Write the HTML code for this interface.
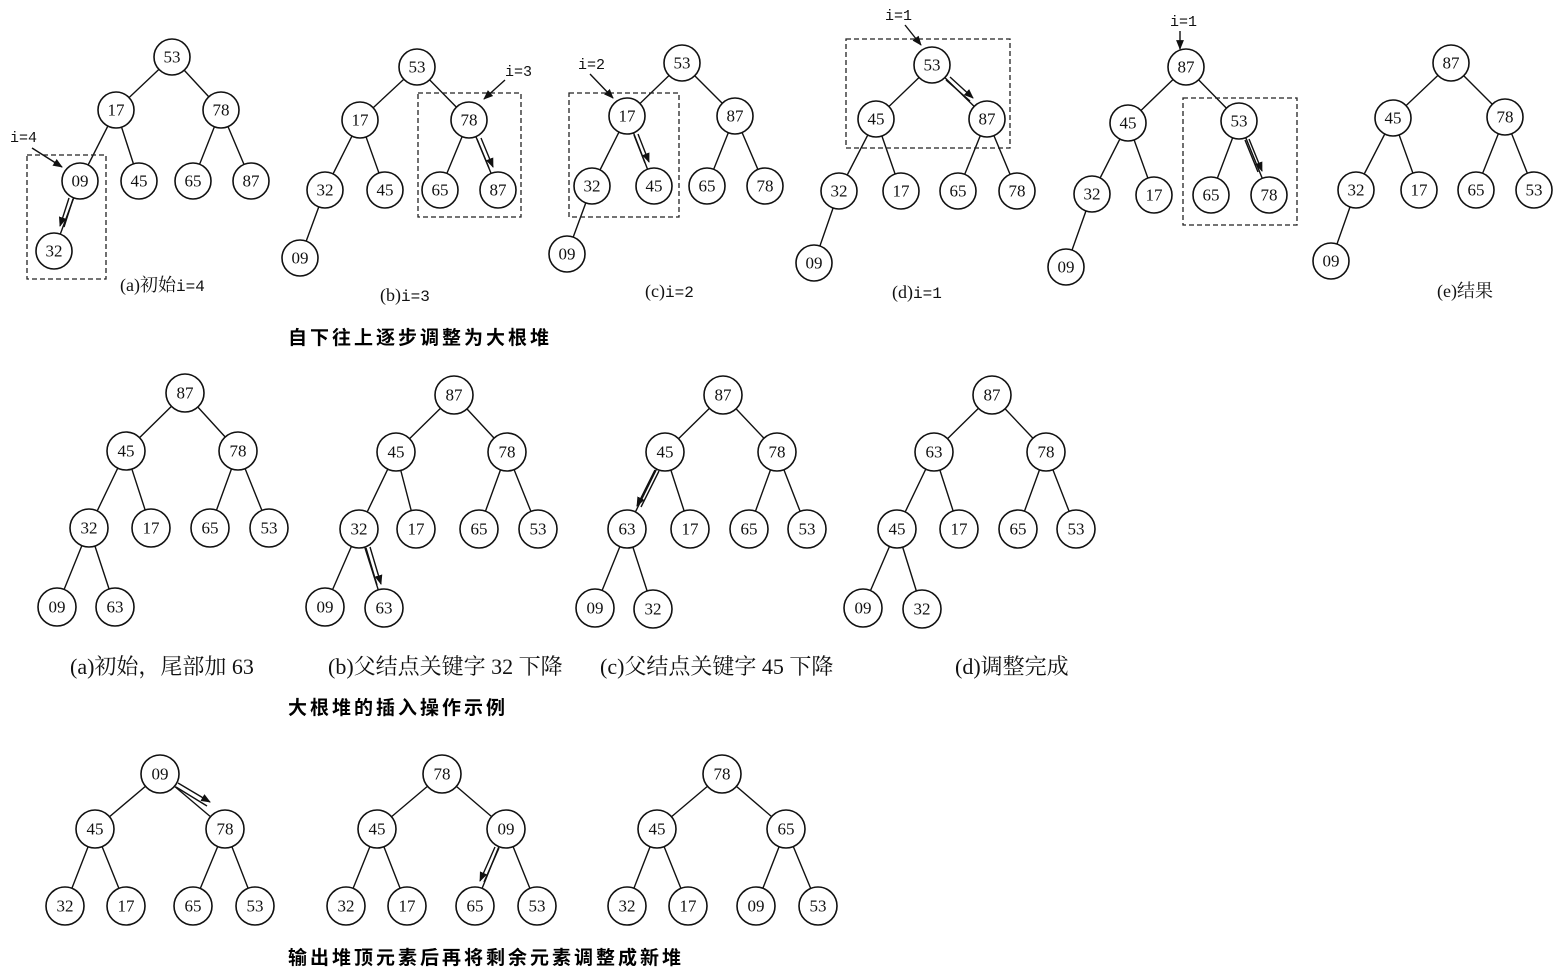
<!DOCTYPE html>
<html><head><meta charset="utf-8"><style>
html,body{margin:0;padding:0;background:#fff;}
svg{display:block}
.n circle{fill:#fff;stroke:#111;stroke-width:1.6}
.n text,.t{font-family:"Liberation Serif","Noto Serif CJK SC",serif;font-size:17px;fill:#111}
.n text{text-anchor:middle;dominant-baseline:central}
line{stroke:#111;stroke-width:1.4}
.d{fill:none;stroke:#222;stroke-width:1.3;stroke-dasharray:5,3}
.m{font-family:"Liberation Mono",monospace;font-size:15px;fill:#111}
.cap{font-size:18px}
.cap tspan{font-size:16px}
.h{font-family:"Liberation Sans","Noto Sans CJK SC",sans-serif;font-size:19px;letter-spacing:3px;font-weight:bold;fill:#000}
.c2{font-size:22px}
</style></head><body>
<svg width="1565" height="974" viewBox="0 0 1565 974" xmlns="http://www.w3.org/2000/svg">
<defs><marker id="a" viewBox="0 0 10 10" refX="9" refY="5" markerWidth="7" markerHeight="7" orient="auto"><path d="M0,1 L10,5 L0,9 z" fill="#111"/></marker></defs>

<g>
<line x1="172" y1="57" x2="116" y2="110"/><line x1="172" y1="57" x2="221" y2="110"/><line x1="116" y1="110" x2="80" y2="181"/><line x1="116" y1="110" x2="139" y2="181"/><line x1="221" y1="110" x2="193" y2="181"/><line x1="221" y1="110" x2="251" y2="181"/><line x1="80" y1="181" x2="54" y2="251"/>
<line x1="417" y1="67" x2="360" y2="120"/><line x1="417" y1="67" x2="469" y2="120"/><line x1="360" y1="120" x2="325" y2="190"/><line x1="360" y1="120" x2="385" y2="190"/><line x1="469" y1="120" x2="440" y2="190"/><line x1="469" y1="120" x2="498" y2="190"/><line x1="325" y1="190" x2="300" y2="258"/>
<line x1="682" y1="63" x2="627" y2="116"/><line x1="682" y1="63" x2="735" y2="116"/><line x1="627" y1="116" x2="592" y2="186"/><line x1="627" y1="116" x2="654" y2="186"/><line x1="735" y1="116" x2="707" y2="186"/><line x1="735" y1="116" x2="765" y2="186"/><line x1="592" y1="186" x2="567" y2="254"/>
<line x1="932" y1="65" x2="876" y2="119"/><line x1="932" y1="65" x2="987" y2="119"/><line x1="876" y1="119" x2="839" y2="191"/><line x1="876" y1="119" x2="901" y2="191"/><line x1="987" y1="119" x2="958" y2="191"/><line x1="987" y1="119" x2="1017" y2="191"/><line x1="839" y1="191" x2="814" y2="263"/>
<line x1="1186" y1="67" x2="1128" y2="123"/><line x1="1186" y1="67" x2="1239" y2="121"/><line x1="1128" y1="123" x2="1092" y2="194"/><line x1="1128" y1="123" x2="1154" y2="195"/><line x1="1239" y1="121" x2="1211" y2="195"/><line x1="1239" y1="121" x2="1269" y2="195"/><line x1="1092" y1="194" x2="1066" y2="267"/>
<line x1="1451" y1="63" x2="1393" y2="118"/><line x1="1451" y1="63" x2="1505" y2="117"/><line x1="1393" y1="118" x2="1356" y2="190"/><line x1="1393" y1="118" x2="1419" y2="190"/><line x1="1505" y1="117" x2="1476" y2="190"/><line x1="1505" y1="117" x2="1534" y2="190"/><line x1="1356" y1="190" x2="1331" y2="261"/>
</g>
<g>
<line x1="185" y1="393" x2="126" y2="451"/><line x1="185" y1="393" x2="238" y2="451"/><line x1="126" y1="451" x2="89" y2="528"/><line x1="126" y1="451" x2="151" y2="528"/><line x1="238" y1="451" x2="210" y2="528"/><line x1="238" y1="451" x2="269" y2="528"/><line x1="89" y1="528" x2="57" y2="607"/><line x1="89" y1="528" x2="115" y2="607"/>
<line x1="454" y1="395" x2="396" y2="452"/><line x1="454" y1="395" x2="507" y2="452"/><line x1="396" y1="452" x2="359" y2="529"/><line x1="396" y1="452" x2="416" y2="529"/><line x1="507" y1="452" x2="479" y2="529"/><line x1="507" y1="452" x2="538" y2="529"/><line x1="359" y1="529" x2="325" y2="607"/><line x1="359" y1="529" x2="384" y2="608"/>
<line x1="723" y1="395" x2="665" y2="452"/><line x1="723" y1="395" x2="777" y2="452"/><line x1="665" y1="452" x2="627" y2="529"/><line x1="665" y1="452" x2="690" y2="529"/><line x1="777" y1="452" x2="749" y2="529"/><line x1="777" y1="452" x2="807" y2="529"/><line x1="627" y1="529" x2="595" y2="608"/><line x1="627" y1="529" x2="653" y2="609"/>
<line x1="992" y1="395" x2="934" y2="452"/><line x1="992" y1="395" x2="1046" y2="452"/><line x1="934" y1="452" x2="897" y2="529"/><line x1="934" y1="452" x2="959" y2="529"/><line x1="1046" y1="452" x2="1018" y2="529"/><line x1="1046" y1="452" x2="1076" y2="529"/><line x1="897" y1="529" x2="863" y2="608"/><line x1="897" y1="529" x2="922" y2="609"/>
</g>
<g>
<line x1="160" y1="774" x2="95" y2="829"/><line x1="160" y1="774" x2="225" y2="829"/><line x1="95" y1="829" x2="65" y2="906"/><line x1="95" y1="829" x2="126" y2="906"/><line x1="225" y1="829" x2="193" y2="906"/><line x1="225" y1="829" x2="255" y2="906"/>
<line x1="442" y1="774" x2="377" y2="829"/><line x1="442" y1="774" x2="506" y2="829"/><line x1="377" y1="829" x2="346" y2="906"/><line x1="377" y1="829" x2="407" y2="906"/><line x1="506" y1="829" x2="475" y2="906"/><line x1="506" y1="829" x2="537" y2="906"/>
<line x1="722" y1="774" x2="657" y2="829"/><line x1="722" y1="774" x2="786" y2="829"/><line x1="657" y1="829" x2="627" y2="906"/><line x1="657" y1="829" x2="688" y2="906"/><line x1="786" y1="829" x2="756" y2="906"/><line x1="786" y1="829" x2="818" y2="906"/>
</g>

<rect class="d" x="27" y="155" width="79" height="124"/>
<rect class="d" x="418" y="93" width="103" height="124"/>
<rect class="d" x="569" y="93" width="110" height="124"/>
<rect class="d" x="846" y="39" width="164" height="109"/>
<rect class="d" x="1183" y="98" width="114" height="127"/>

<text class="m" x="10" y="142">i=4</text><line x1="32" y1="148" x2="62" y2="167" marker-end="url(#a)"/>
<text class="m" x="505" y="76">i=3</text><line x1="505" y1="80" x2="484" y2="99" marker-end="url(#a)"/>
<text class="m" x="578" y="69">i=2</text><line x1="590" y1="74" x2="613" y2="98" marker-end="url(#a)"/>
<text class="m" x="885" y="20">i=1</text><line x1="905" y1="25" x2="921" y2="45" marker-end="url(#a)"/>
<text class="m" x="1170" y="26">i=1</text><line x1="1180" y1="31" x2="1180" y2="49" marker-end="url(#a)"/>

<g>
<line x1="73" y1="199" x2="64" y2="227"/><line x1="69" y1="198" x2="60" y2="226" marker-end="url(#a)"/>
<line x1="477" y1="139" x2="489" y2="168"/><line x1="481" y1="138" x2="493" y2="167" marker-end="url(#a)"/>
<line x1="634" y1="135" x2="645" y2="163"/><line x1="638" y1="134" x2="649" y2="162" marker-end="url(#a)"/>
<line x1="946" y1="80" x2="970" y2="101"/><line x1="950" y1="77" x2="973" y2="98" marker-end="url(#a)"/>
<line x1="1245" y1="140" x2="1258" y2="172"/><line x1="1249" y1="139" x2="1262" y2="171" marker-end="url(#a)"/>
<line x1="366" y1="548" x2="377" y2="585"/><line x1="370" y1="547" x2="381" y2="584" marker-end="url(#a)"/>
<line x1="659" y1="471" x2="641" y2="507"/><line x1="655" y1="470" x2="637" y2="506" marker-end="url(#a)"/>
<line x1="176" y1="787" x2="207" y2="806"/><line x1="178" y1="783" x2="210" y2="802" marker-end="url(#a)"/>
<line x1="499" y1="848" x2="484" y2="882"/><line x1="495" y1="847" x2="480" y2="881" marker-end="url(#a)"/>
</g>

<g class="n">
<circle cx="172" cy="57" r="18"/><text x="172" y="57">53</text>
<circle cx="116" cy="110" r="18"/><text x="116" y="110">17</text>
<circle cx="221" cy="110" r="18"/><text x="221" y="110">78</text>
<circle cx="80" cy="181" r="18"/><text x="80" y="181">09</text>
<circle cx="139" cy="181" r="18"/><text x="139" y="181">45</text>
<circle cx="193" cy="181" r="18"/><text x="193" y="181">65</text>
<circle cx="251" cy="181" r="18"/><text x="251" y="181">87</text>
<circle cx="54" cy="251" r="18"/><text x="54" y="251">32</text>

<circle cx="417" cy="67" r="18"/><text x="417" y="67">53</text>
<circle cx="360" cy="120" r="18"/><text x="360" y="120">17</text>
<circle cx="469" cy="120" r="18"/><text x="469" y="120">78</text>
<circle cx="325" cy="190" r="18"/><text x="325" y="190">32</text>
<circle cx="385" cy="190" r="18"/><text x="385" y="190">45</text>
<circle cx="440" cy="190" r="18"/><text x="440" y="190">65</text>
<circle cx="498" cy="190" r="18"/><text x="498" y="190">87</text>
<circle cx="300" cy="258" r="18"/><text x="300" y="258">09</text>

<circle cx="682" cy="63" r="18"/><text x="682" y="63">53</text>
<circle cx="627" cy="116" r="18"/><text x="627" y="116">17</text>
<circle cx="735" cy="116" r="18"/><text x="735" y="116">87</text>
<circle cx="592" cy="186" r="18"/><text x="592" y="186">32</text>
<circle cx="654" cy="186" r="18"/><text x="654" y="186">45</text>
<circle cx="707" cy="186" r="18"/><text x="707" y="186">65</text>
<circle cx="765" cy="186" r="18"/><text x="765" y="186">78</text>
<circle cx="567" cy="254" r="18"/><text x="567" y="254">09</text>

<circle cx="932" cy="65" r="18"/><text x="932" y="65">53</text>
<circle cx="876" cy="119" r="18"/><text x="876" y="119">45</text>
<circle cx="987" cy="119" r="18"/><text x="987" y="119">87</text>
<circle cx="839" cy="191" r="18"/><text x="839" y="191">32</text>
<circle cx="901" cy="191" r="18"/><text x="901" y="191">17</text>
<circle cx="958" cy="191" r="18"/><text x="958" y="191">65</text>
<circle cx="1017" cy="191" r="18"/><text x="1017" y="191">78</text>
<circle cx="814" cy="263" r="18"/><text x="814" y="263">09</text>

<circle cx="1186" cy="67" r="18"/><text x="1186" y="67">87</text>
<circle cx="1128" cy="123" r="18"/><text x="1128" y="123">45</text>
<circle cx="1239" cy="121" r="18"/><text x="1239" y="121">53</text>
<circle cx="1092" cy="194" r="18"/><text x="1092" y="194">32</text>
<circle cx="1154" cy="195" r="18"/><text x="1154" y="195">17</text>
<circle cx="1211" cy="195" r="18"/><text x="1211" y="195">65</text>
<circle cx="1269" cy="195" r="18"/><text x="1269" y="195">78</text>
<circle cx="1066" cy="267" r="18"/><text x="1066" y="267">09</text>

<circle cx="1451" cy="63" r="18"/><text x="1451" y="63">87</text>
<circle cx="1393" cy="118" r="18"/><text x="1393" y="118">45</text>
<circle cx="1505" cy="117" r="18"/><text x="1505" y="117">78</text>
<circle cx="1356" cy="190" r="18"/><text x="1356" y="190">32</text>
<circle cx="1419" cy="190" r="18"/><text x="1419" y="190">17</text>
<circle cx="1476" cy="190" r="18"/><text x="1476" y="190">65</text>
<circle cx="1534" cy="190" r="18"/><text x="1534" y="190">53</text>
<circle cx="1331" cy="261" r="18"/><text x="1331" y="261">09</text>

<circle cx="185" cy="393" r="19"/><text x="185" y="393">87</text>
<circle cx="126" cy="451" r="19"/><text x="126" y="451">45</text>
<circle cx="238" cy="451" r="19"/><text x="238" y="451">78</text>
<circle cx="89" cy="528" r="19"/><text x="89" y="528">32</text>
<circle cx="151" cy="528" r="19"/><text x="151" y="528">17</text>
<circle cx="210" cy="528" r="19"/><text x="210" y="528">65</text>
<circle cx="269" cy="528" r="19"/><text x="269" y="528">53</text>
<circle cx="57" cy="607" r="19"/><text x="57" y="607">09</text>
<circle cx="115" cy="607" r="19"/><text x="115" y="607">63</text>

<circle cx="454" cy="395" r="19"/><text x="454" y="395">87</text>
<circle cx="396" cy="452" r="19"/><text x="396" y="452">45</text>
<circle cx="507" cy="452" r="19"/><text x="507" y="452">78</text>
<circle cx="359" cy="529" r="19"/><text x="359" y="529">32</text>
<circle cx="416" cy="529" r="19"/><text x="416" y="529">17</text>
<circle cx="479" cy="529" r="19"/><text x="479" y="529">65</text>
<circle cx="538" cy="529" r="19"/><text x="538" y="529">53</text>
<circle cx="325" cy="607" r="19"/><text x="325" y="607">09</text>
<circle cx="384" cy="608" r="19"/><text x="384" y="608">63</text>

<circle cx="723" cy="395" r="19"/><text x="723" y="395">87</text>
<circle cx="665" cy="452" r="19"/><text x="665" y="452">45</text>
<circle cx="777" cy="452" r="19"/><text x="777" y="452">78</text>
<circle cx="627" cy="529" r="19"/><text x="627" y="529">63</text>
<circle cx="690" cy="529" r="19"/><text x="690" y="529">17</text>
<circle cx="749" cy="529" r="19"/><text x="749" y="529">65</text>
<circle cx="807" cy="529" r="19"/><text x="807" y="529">53</text>
<circle cx="595" cy="608" r="19"/><text x="595" y="608">09</text>
<circle cx="653" cy="609" r="19"/><text x="653" y="609">32</text>

<circle cx="992" cy="395" r="19"/><text x="992" y="395">87</text>
<circle cx="934" cy="452" r="19"/><text x="934" y="452">63</text>
<circle cx="1046" cy="452" r="19"/><text x="1046" y="452">78</text>
<circle cx="897" cy="529" r="19"/><text x="897" y="529">45</text>
<circle cx="959" cy="529" r="19"/><text x="959" y="529">17</text>
<circle cx="1018" cy="529" r="19"/><text x="1018" y="529">65</text>
<circle cx="1076" cy="529" r="19"/><text x="1076" y="529">53</text>
<circle cx="863" cy="608" r="19"/><text x="863" y="608">09</text>
<circle cx="922" cy="609" r="19"/><text x="922" y="609">32</text>

<circle cx="160" cy="774" r="19"/><text x="160" y="774">09</text>
<circle cx="95" cy="829" r="19"/><text x="95" y="829">45</text>
<circle cx="225" cy="829" r="19"/><text x="225" y="829">78</text>
<circle cx="65" cy="906" r="19"/><text x="65" y="906">32</text>
<circle cx="126" cy="906" r="19"/><text x="126" y="906">17</text>
<circle cx="193" cy="906" r="19"/><text x="193" y="906">65</text>
<circle cx="255" cy="906" r="19"/><text x="255" y="906">53</text>

<circle cx="442" cy="774" r="19"/><text x="442" y="774">78</text>
<circle cx="377" cy="829" r="19"/><text x="377" y="829">45</text>
<circle cx="506" cy="829" r="19"/><text x="506" y="829">09</text>
<circle cx="346" cy="906" r="19"/><text x="346" y="906">32</text>
<circle cx="407" cy="906" r="19"/><text x="407" y="906">17</text>
<circle cx="475" cy="906" r="19"/><text x="475" y="906">65</text>
<circle cx="537" cy="906" r="19"/><text x="537" y="906">53</text>

<circle cx="722" cy="774" r="19"/><text x="722" y="774">78</text>
<circle cx="657" cy="829" r="19"/><text x="657" y="829">45</text>
<circle cx="786" cy="829" r="19"/><text x="786" y="829">65</text>
<circle cx="627" cy="906" r="19"/><text x="627" y="906">32</text>
<circle cx="688" cy="906" r="19"/><text x="688" y="906">17</text>
<circle cx="756" cy="906" r="19"/><text x="756" y="906">09</text>
<circle cx="818" cy="906" r="19"/><text x="818" y="906">53</text>
</g>

<text class="t cap" x="120" y="291">(a)初始<tspan class="m">i=4</tspan></text>
<text class="t cap" x="380" y="301">(b)<tspan class="m">i=3</tspan></text>
<text class="t cap" x="645" y="297">(c)<tspan class="m">i=2</tspan></text>
<text class="t cap" x="892" y="298">(d)<tspan class="m">i=1</tspan></text>
<text class="t cap" x="1437" y="297">(e)结果</text>
<text class="h" x="288" y="344">自下往上逐步调整为大根堆</text>

<text class="t c2" x="70" y="674">(a)初始，尾部加 63</text>
<text class="t c2" x="328" y="674">(b)父结点关键字 32 下降</text>
<text class="t c2" x="600" y="674">(c)父结点关键字 45 下降</text>
<text class="t c2" x="955" y="674">(d)调整完成</text>
<text class="h" x="288" y="714">大根堆的插入操作示例</text>

<text class="h" x="288" y="964">输出堆顶元素后再将剩余元素调整成新堆</text>
</svg>
</body></html>
